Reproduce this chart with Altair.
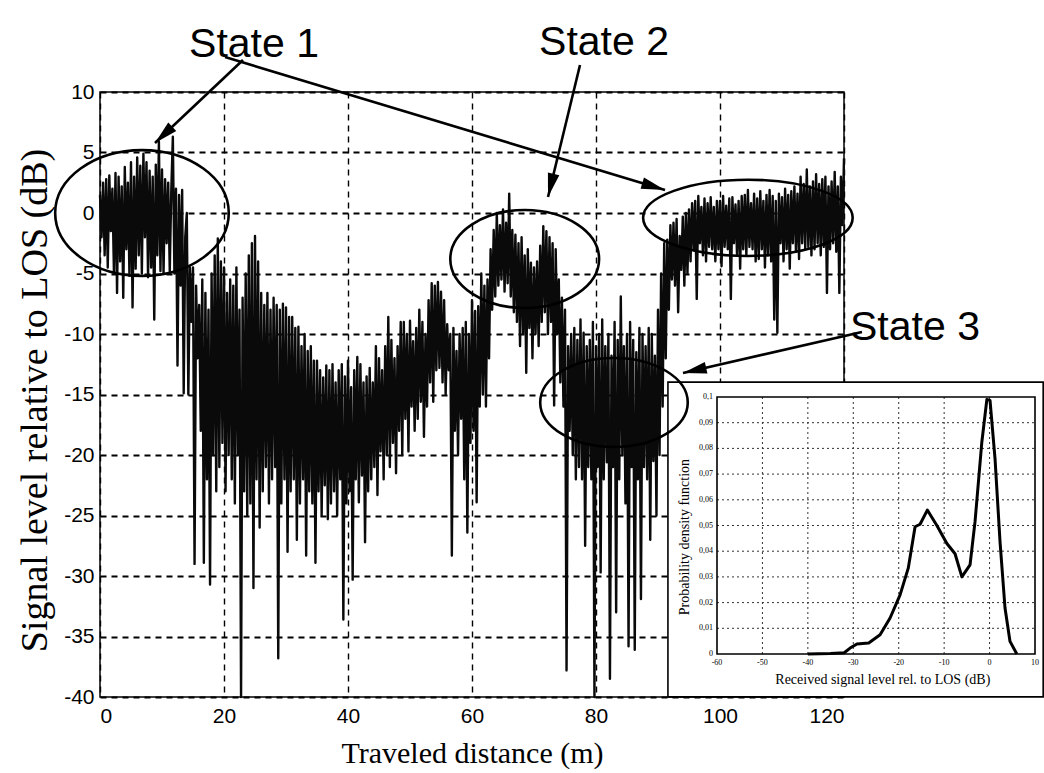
import math
import altair as alt
import pandas as pd

# ---------------- main trace: signal level (dB) every 0.25 m ----------------
STEP_M = 0.25
sig_00_20 = [
    1.5, -2.0, 2.5, -3.5, 2.8, -4.5, 3.1, -1.5, 2.0, -5.0, 3.3, -6.6, 3.0, -4.0, 2.2, -7.0, 3.8, -3.0, 2.5, -5.2,
    4.2, -7.8, 3.0, -4.6, 4.6, -3.5, 3.9, -5.0, 4.9, -2.0, 4.2, -5.3, 3.5, -4.5, 3.0, -8.8, 4.0, -3.5, 5.9, -4.8,
    3.6, -5.0, 2.8, -2.5, 2.5, -4.8, 1.9, 6.3, -5.0, 2.0, -12.6, 1.5, -6.0, 1.9, -14.9, -2.0, 0.0, -15.0, -4.5, -9.0,
    -4.5, -29.0, -6.0, -12.0, -7.6, -18.0, -5.5, -28.9, -6.6, -22.0, -8.0, -30.7, -5.0, -20.0, -3.5, -23.0, -2.1, -21.0, -4.0, -19.0]
sig_20_40 = [
    -4.5, -23.0, -6.6, -20.0, -5.5, -22.0, -6.0, -24.0, -4.5, -20.0, -8.0, -40.0, -7.0, -23.0, -5.0, -25.0, -3.5, -24.0, -2.5, -31.0,
    -1.9, -22.0, -4.0, -26.0, -6.6, -23.0, -7.6, -21.0, -6.6, -24.0, -8.0, -22.0, -7.0, -21.0, -7.6, -36.8, -8.0, -24.0, -7.5, -22.0,
    -7.8, -28.0, -8.6, -23.0, -8.6, -22.0, -9.5, -27.0, -9.4, -24.0, -11.0, -22.0, -10.0, -28.3, -11.4, -23.0, -11.0, -24.0, -12.2, -28.9,
    -12.2, -23.0, -13.0, -25.0, -13.6, -22.5, -12.6, -25.3, -13.0, -24.0, -12.5, -23.0, -14.0, -25.0, -13.0, -22.0, -12.5, -33.6, -13.5, -24.0]
sig_40_60 = [
    -12.2, -23.0, -14.4, -30.3, -13.0, -22.0, -11.9, -23.9, -12.5, -21.7, -14.0, -27.2, -13.5, -23.0, -12.8, -22.0, -14.0, -21.0, -11.0, -23.3,
    -12.0, -19.7, -13.0, -22.0, -11.0, -20.0, -8.6, -21.0, -10.5, -19.0, -12.0, -21.5, -11.0, -18.0, -9.0, -20.0, -9.0, -17.0, -10.0, -19.7,
    -8.9, -16.0, -10.6, -18.0, -9.5, -17.0, -8.0, -15.6, -9.0, -18.5, -10.0, -16.0, -7.2, -14.0, -5.8, -15.6, -6.0, -13.0, -5.7, -12.8,
    -6.5, -14.0, -7.2, -15.0, -9.2, -13.0, -10.0, -28.3, -9.5, -18.0, -11.4, -20.0, -10.0, -17.0, -9.5, -22.0, -9.0, -26.4, -10.0, -19.0]
sig_60_80 = [
    -7.2, -18.0, -8.1, -23.9, -7.7, -16.0, -5.0, -15.0, -6.0, -16.0, -5.5, -12.0, -3.0, -8.0, -1.4, -6.9, 0.0, -6.0, -1.0, -5.5,
    0.3, -6.5, -0.8, -5.8, 1.6, -6.9, -1.4, -8.2, -1.8, -9.0, -2.5, -11.0, -2.0, -10.0, -3.5, -13.2, -3.0, -9.5, -4.1, -12.0,
    -4.5, -10.0, -4.0, -11.0, -2.7, -9.0, -1.1, -8.2, -1.5, -10.0, -2.0, -9.0, -2.5, -15.9, -3.0, -10.0, -5.5, -14.0, -7.0, -16.0,
    -8.0, -37.8, -11.0, -18.0, -10.0, -20.0, -9.5, -22.0, -10.5, -21.0, -8.8, -22.0, -9.9, -27.5, -11.0, -21.0, -10.5, -22.0, -9.0, -40.0]
sig_80_100 = [
    -11.0, -21.0, -10.0, -29.7, -8.8, -22.0, -11.0, -20.6, -10.0, -38.5, -11.8, -21.0, -9.0, -33.0, -10.5, -22.0, -6.9, -20.0, -11.0, -24.0,
    -10.0, -35.8, -9.0, -21.0, -10.5, -36.1, -11.5, -22.0, -9.5, -31.9, -10.0, -21.0, -11.0, -22.0, -9.5, -27.0, -10.0, -20.5, -11.8, -25.0,
    -8.0, -20.0, -5.0, -16.0, -2.5, -12.0, -2.2, -8.0, -1.0, -5.5, -0.8, -6.0, -0.5, -8.2, -1.9, -4.7, -0.3, -6.0, 0.0, -5.0,
    0.3, -4.0, 0.8, -3.0, 1.0, -7.1, 1.4, -2.5, 0.5, -3.5, 1.2, -4.0, 0.8, -2.8, 1.3, -3.0, 0.5, -4.0, 1.0, -3.0]
sig_100_120 = [
    1.0, -4.4, 1.4, -2.8, 0.6, -3.0, 1.2, -7.1, 1.3, -2.5, 0.7, -3.5, 1.0, -4.6, 1.4, -3.0, 1.5, -3.5, 1.9, -2.8,
    0.8, -3.0, 1.6, -4.0, 1.2, -3.8, 1.8, -3.0, 1.0, -4.5, 1.5, -3.5, 1.9, -4.0, 1.4, -8.8, 1.0, -9.9, 1.6, -2.5,
    1.3, -4.0, 2.0, -3.0, 1.5, -4.6, 1.8, -2.5, 2.2, -3.2, 1.6, -3.8, 3.0, -2.5, 2.4, -3.0, 3.6, -2.8, 2.2, -3.5,
    2.6, -3.0, 3.2, -2.5, 2.4, -3.5, 2.8, -2.8, 3.0, -6.6, 2.2, -3.0, 2.6, -2.5, 3.4, -3.2, 2.2, -6.6, 3.0, -1.0,
    4.5]

# ---------------- inset: PDF of received level ----------------
pdf_level_db = [-40, -35, -32, -30.7, -29.2, -26.6, -24.1, -21.9, -19.7, -17.9, -16.4, -15.3, -13.7,
                -11.6, -9.4, -7.6, -6.1, -4.3, -3.2, -1.7, -0.6, 0.1, 1.2, 2.3, 3.4, 4.5, 6.0]
pdf_value = [0, 0.0002, 0.0005, 0.0023, 0.0039, 0.0043, 0.0075, 0.014, 0.023, 0.0334, 0.0495, 0.0505, 0.056,
             0.050, 0.043, 0.039, 0.030, 0.0347, 0.0515, 0.0825, 0.099, 0.0987, 0.076, 0.0437, 0.0179, 0.0049, 0]

# ---------------- ticks / labels ----------------
main_x_ticks = [0, 20, 40, 60, 80, 100, 120]
main_y_ticks = [-40, -35, -30, -25, -20, -15, -10, -5, 0, 5, 10]
inset_x_ticks = [-60, -50, -40, -30, -20, -10, 0, 10]
inset_x_labels = ["-60", "-50", "-40", "-30", "-20", "-10", "0", "10"]
inset_y_ticks = [0, 0.01, 0.02, 0.03, 0.04, 0.05, 0.06, 0.07, 0.08, 0.09, 0.1]
inset_y_labels = ["0", "0,01", "0,02", "0,03", "0,04", "0,05", "0,06", "0,07", "0,08", "0,09", "0,1"]

# ---------------- annotations (main data units) ----------------
ell_name = ["s1a", "s2", "s1b", "s3"]
ell_cx = [6.77, 68.5, 104.5, 82.9]
ell_cy = [0.0, -3.8, -0.4, -15.66]
ell_rx = [14.0, 12.0, 16.9, 11.9]     # metres
ell_ry = [5.2, 4.05, 3.15, 3.68]      # dB

arr_x1 = [23.06, 20.16, 77.42, 122.9]
arr_y1 = [12.64, 12.89, 12.23, -9.83]
arr_x2 = [8.87, 91.13, 72.26, 94.03]
arr_y2 = [5.79, 1.90, 1.32, -13.22]

lab_text = ["State 1", "State 2", "State 3"]
lab_x = [24.84, 81.29, 131.45]
lab_y = [13.88, 14.05, -9.5]

# inset white box, in inset data units (dB, pdf)
box_x = [-70.8]; box_x2 = [11.8]; box_y = [0.1058]; box_y2 = [-0.0167]

# ---------------- layout ----------------
W, H = 744, 605
X_DOMAIN = [0, 120]
Y_DOMAIN = [-40, 10]
PX_X = W / (X_DOMAIN[1] - X_DOMAIN[0])
PX_Y = H / (Y_DOMAIN[1] - Y_DOMAIN[0])
INSET_X_DOMAIN = [-60, 10]
INSET_Y_DOMAIN = [0, 0.1]
INSET_X_RANGE = [617, 935]
INSET_Y_RANGE = [562, 305]

SANS = "Liberation Sans Narrow, Arial Narrow, Liberation Sans, Arial, sans-serif"
SERIF = "Liberation Serif, Times New Roman, serif"


def mxs():
    return alt.Scale(domain=X_DOMAIN, nice=False, zero=False)


def mys():
    return alt.Scale(domain=Y_DOMAIN, nice=False, zero=False)


def ixs():
    return alt.Scale(domain=INSET_X_DOMAIN, range=INSET_X_RANGE, nice=False, zero=False)


def iys():
    return alt.Scale(domain=INSET_Y_DOMAIN, range=INSET_Y_RANGE, nice=False, zero=False)


signal = sig_00_20 + sig_20_40 + sig_40_60 + sig_60_80 + sig_80_100 + sig_100_120
df_sig = pd.DataFrame({"d": [i * STEP_M for i in range(len(signal))], "s": signal})

trace = alt.Chart(df_sig).mark_line(color="#0a0a0a", strokeWidth=2.4, strokeJoin="round").encode(
    x=alt.X("d:Q", scale=mxs(), axis=alt.Axis(
        values=main_x_ticks, title="Traveled distance  (m)", grid=True, gridColor="black",
        gridDash=[6, 5], gridWidth=1.4, ticks=False, domain=False,
        labelFont=SANS, labelFontSize=21, labelColor="black", labelPadding=8,
        labelExpr="'' + datum.value",
        titleFont=SERIF, titleFontSize=30, titleFontWeight="normal", titleColor="black",
        titleY=56, titleBaseline="middle")),
    y=alt.Y("s:Q", scale=mys(), axis=alt.Axis(
        values=main_y_ticks, title="Signal level relative to LOS (dB)", grid=True, gridColor="black",
        gridDash=[6, 5], gridWidth=1.8, ticks=False, domain=False,
        labelFont=SANS, labelFontSize=21, labelColor="black", labelPadding=6,
        labelExpr="'' + datum.value",
        titleFont=SERIF, titleFontSize=38, titleFontWeight="normal", titleColor="black",
        titleX=-65, titleY=308, titleBaseline="middle", titleAngle=270)),
)
main_group = alt.layer(trace)

# ---------------- inset group ----------------
df_box = pd.DataFrame({"x": box_x, "x2": box_x2, "y": box_y, "y2": box_y2})
box = alt.Chart(df_box).mark_rect(fill="white", stroke="black", strokeWidth=1.6).encode(
    x=alt.X("x:Q", scale=ixs(), axis=None), x2="x2:Q",
    y=alt.Y("y:Q", scale=iys(), axis=None), y2="y2:Q",
)
df_ivg = pd.DataFrame({"v": inset_x_ticks[1:-1], "y0": 0.0, "y1": 0.1})
ivgrid = alt.Chart(df_ivg).mark_rule(color="#333333", strokeDash=[2, 3], strokeWidth=1).encode(
    x=alt.X("v:Q", scale=ixs(), axis=None),
    y=alt.Y("y0:Q", scale=iys(), axis=None), y2="y1:Q")
df_ihg = pd.DataFrame({"v": inset_y_ticks[1:-1], "x0": -60.0, "x1": 10.0})
ihgrid = alt.Chart(df_ihg).mark_rule(color="#333333", strokeDash=[2, 3], strokeWidth=1).encode(
    y=alt.Y("v:Q", scale=iys(), axis=None),
    x=alt.X("x0:Q", scale=ixs(), axis=None), x2="x1:Q")
df_iframe = pd.DataFrame({"x": [INSET_X_DOMAIN[0]], "x2": [INSET_X_DOMAIN[1]],
                          "y": [INSET_Y_DOMAIN[0]], "y2": [INSET_Y_DOMAIN[1]]})
iframe = alt.Chart(df_iframe).mark_rect(fillOpacity=0, stroke="black", strokeWidth=1.6).encode(
    x=alt.X("x:Q", scale=ixs(), axis=None), x2="x2:Q",
    y=alt.Y("y:Q", scale=iys(), axis=None), y2="y2:Q")
df_pdf = pd.DataFrame({"db": pdf_level_db, "p": pdf_value})
icurve = alt.Chart(df_pdf).mark_line(color="black", strokeWidth=3, strokeJoin="round").encode(
    x=alt.X("db:Q", scale=ixs(), axis=None),
    y=alt.Y("p:Q", scale=iys(), axis=None))
df_ixl = pd.DataFrame({"v": inset_x_ticks, "t": inset_x_labels, "y": -0.0036})
ixlab = alt.Chart(df_ixl).mark_text(font=SERIF, fontSize=8, baseline="middle", align="center",
                                    color="black").encode(
    x=alt.X("v:Q", scale=ixs(), axis=None),
    y=alt.Y("y:Q", scale=iys(), axis=None), text="t:N")
df_iyl = pd.DataFrame({"v": inset_y_ticks, "t": inset_y_labels, "x": -60.9})
iylab = alt.Chart(df_iyl).mark_text(font=SERIF, fontSize=8, baseline="middle", align="right",
                                    color="black").encode(
    y=alt.Y("v:Q", scale=iys(), axis=None),
    x=alt.X("x:Q", scale=ixs(), axis=None), text="t:N")
df_ixt = pd.DataFrame({"x": [-23.5], "y": [-0.0101], "t": ["Received signal level rel. to LOS (dB)"]})
ixtitle = alt.Chart(df_ixt).mark_text(font=SERIF, fontSize=14, baseline="middle", align="center",
                                      color="black").encode(
    x=alt.X("x:Q", scale=ixs(), axis=None), y=alt.Y("y:Q", scale=iys(), axis=None), text="t:N")
df_iyt = pd.DataFrame({"x": [-67.0], "y": [0.0455], "t": ["Probability density function"]})
iytitle = alt.Chart(df_iyt).mark_text(font=SERIF, fontSize=14, baseline="middle", align="center",
                                      angle=270, color="black").encode(
    x=alt.X("x:Q", scale=ixs(), axis=None), y=alt.Y("y:Q", scale=iys(), axis=None), text="t:N")
inset_group = alt.layer(box, ivgrid, ihgrid, icurve, iframe, ixlab, iylab, ixtitle, iytitle)


# ---------------- annotation group ----------------
def ellipse_path(ratio):
    k = 0.5523
    a = ratio
    return (f"M -1 0 C -1 {-k * a:.4f} {-k:.4f} {-a:.4f} 0 {-a:.4f} "
            f"C {k:.4f} {-a:.4f} 1 {-k * a:.4f} 1 0 "
            f"C 1 {k * a:.4f} {k:.4f} {a:.4f} 0 {a:.4f} "
            f"C {-k:.4f} {a:.4f} -1 {k * a:.4f} -1 0 Z")


ellipses = []
for i in range(len(ell_name)):
    rx_px = ell_rx[i] * PX_X
    ry_px = ell_ry[i] * PX_Y
    dfe = pd.DataFrame({"x": [ell_cx[i]], "y": [ell_cy[i]]})
    ellipses.append(
        alt.Chart(dfe).mark_point(shape=ellipse_path(ry_px / rx_px), size=(2 * rx_px) ** 2,
                                  filled=False, stroke="black", strokeWidth=2.6, opacity=1).encode(
            x=alt.X("x:Q", scale=mxs(), axis=None), y=alt.Y("y:Q", scale=mys(), axis=None)))

angles = []
for i in range(len(arr_x1)):
    dx = (arr_x2[i] - arr_x1[i]) * PX_X
    dy = -(arr_y2[i] - arr_y1[i]) * PX_Y
    angles.append(math.degrees(math.atan2(dx, -dy)) % 360)
df_arr = pd.DataFrame({"x1": arr_x1, "y1": arr_y1, "x2": arr_x2, "y2": arr_y2, "ang": angles})
arrows = alt.Chart(df_arr).mark_rule(color="black", strokeWidth=2.6).encode(
    x=alt.X("x1:Q", scale=mxs(), axis=None), y=alt.Y("y1:Q", scale=mys(), axis=None),
    x2="x2:Q", y2="y2:Q")
heads = alt.Chart(df_arr).mark_point(shape="M 0 0 L 0.42 1.7 L -0.42 1.7 Z", size=780, filled=True,
                                     color="black", opacity=1).encode(
    x=alt.X("x2:Q", scale=mxs(), axis=None), y=alt.Y("y2:Q", scale=mys(), axis=None),
    angle=alt.Angle("ang:Q", scale=None))
df_lab = pd.DataFrame({"x": lab_x, "y": lab_y, "t": lab_text})
labels = alt.Chart(df_lab).mark_text(font=SANS, fontSize=41, baseline="middle", align="center",
                                     color="black").encode(
    x=alt.X("x:Q", scale=mxs(), axis=None), y=alt.Y("y:Q", scale=mys(), axis=None), text="t:N")
annot_group = alt.layer(*ellipses, arrows, heads, labels)

chart = alt.layer(main_group, inset_group, annot_group).resolve_scale(
    x="independent", y="independent"
).properties(
    width=W, height=H, autosize="none",
    padding={"left": 100, "top": 92, "right": 200, "bottom": 76},
    background="white",
).configure_view(stroke="black", strokeWidth=1.5)

chart.save("out.html", embed_options={"renderer": "svg", "actions": False})
